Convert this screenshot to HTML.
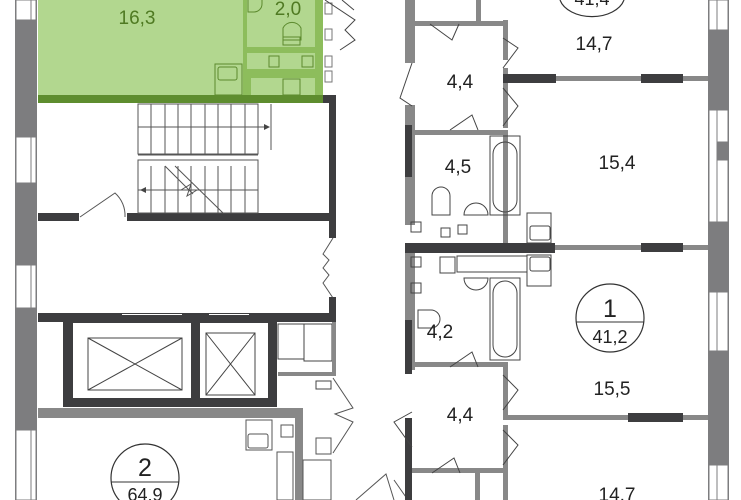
<!DOCTYPE html>
<html><head><meta charset="utf-8"><style>
html,body{margin:0;padding:0;background:#fff;}
svg{display:block;}
text{font-family:"Liberation Sans",sans-serif;}
</style></head><body>
<svg width="741" height="500" viewBox="0 0 741 500" xmlns="http://www.w3.org/2000/svg">
<rect width="741" height="500" fill="#fff"/>
<rect x="15" y="0" width="22" height="500" fill="#7d7d7f"/>
<g fill="#fff" stroke="#7d7d7f" stroke-width="1">
<rect x="16" y="0" width="15" height="20"/><rect x="31" y="0" width="5" height="20"/>
<rect x="16" y="137" width="15" height="46"/><rect x="31" y="137" width="5" height="46"/>
<rect x="16" y="265" width="15" height="43"/><rect x="31" y="265" width="5" height="43"/>
<rect x="16" y="430" width="15" height="70"/><rect x="31" y="430" width="5" height="70"/>
</g>
<rect x="708" y="0" width="21" height="500" fill="#7d7d7f"/>
<g fill="#fff" stroke="#7d7d7f" stroke-width="1">
<rect x="709" y="0" width="8" height="30"/><rect x="717" y="0" width="11" height="30"/>
<rect x="709" y="110" width="8" height="112"/><rect x="717" y="110" width="11" height="32"/><rect x="717" y="160" width="11" height="62"/>
<rect x="709" y="292" width="8" height="59"/><rect x="717" y="292" width="11" height="59"/>
<rect x="709" y="465" width="8" height="35"/><rect x="717" y="465" width="11" height="35"/>
</g>
<rect x="38" y="0" width="285" height="97" fill="#b2d78f"/>
<rect x="243" y="0" width="80" height="97" fill="#8dbd5c"/>
<rect x="247" y="0" width="68" height="47" fill="#b2d78f"/>
<rect x="247" y="53" width="68" height="16" fill="#b2d78f"/>
<rect x="251" y="78" width="64" height="17" fill="#b2d78f"/>
<rect x="269" y="56" width="10" height="11" fill="none" stroke="#5c8a2e"/>
<rect x="302" y="56" width="11" height="11" fill="none" stroke="#5c8a2e"/>
<rect x="283" y="79" width="17" height="16" fill="none" stroke="#5c8a2e"/>
<rect x="215" y="64" width="27" height="31" fill="none" stroke="#5c8a2e"/>
<rect x="218" y="67" width="19" height="13" rx="2" fill="none" stroke="#5c8a2e"/>
<path d="M283 40 v-12 a10 10 0 0 1 18 0 v12 z" fill="none" stroke="#5c8a2e"/>
<rect x="283" y="37" width="17" height="8" fill="none" stroke="#5c8a2e"/>
<path d="M248 0 v12 h6 a8 8 0 0 0 8 -8 v-4" fill="none" stroke="#5c8a2e"/>
<rect x="38" y="95" width="285" height="8" fill="#5e8d2f"/>
<text x="137" y="24" font-size="19" fill="#4f7a22" text-anchor="middle">16,3</text>
<text x="288" y="15" font-size="19" fill="#4f7a22" text-anchor="middle">2,0</text>
<g fill="#fff" stroke="#777"><rect x="325" y="3" width="7" height="11"/><rect x="325" y="29" width="7" height="11"/><rect x="325" y="56" width="7" height="11"/><rect x="325" y="71" width="7" height="11"/></g>
<rect x="323" y="95" width="13" height="8" fill="#3d3d3f"/>
<rect x="329" y="95" width="7" height="143" fill="#3d3d3f"/>
<rect x="38" y="213" width="41" height="8" fill="#3d3d3f"/>
<rect x="127" y="213" width="209" height="8" fill="#3d3d3f"/>
<g stroke="#555" fill="none" stroke-width="1">
<rect x="138" y="104" width="120" height="50"/>
<rect x="138" y="160" width="120" height="53"/>
<path d="M151 104v50M165 104v50M178 104v50M191 104v50M205 104v50M218 104v50M231 104v50M245 104v50"/>
<path d="M151 166v47M165 166v47M178 166v47M191 166v47M205 166v47M218 166v47M231 166v47M245 166v47"/>
<path d="M138 127h130M138 190h120M271 104v46"/>
<path d="M138 155h120M138 160h120"/>
<path d="M165 166 l28 28 M175 166 l48 47 M181 190 l10 -6 l-4 12 l10 -6"/>
<path d="M80 217 l35 -24 a30 30 0 0 1 10 24"/>
<path d="M333 238 l-10 16 l6 6 l-6 8 l6 7 l-6 8 l10 15"/>
</g>
<path d="M270 127 l-6 -3 v6z M140 190 l6 -3 v6z" fill="#444"/>
<rect x="38" y="313" width="298" height="9" fill="#3d3d3f"/>
<rect x="122" y="314" width="60" height="6" fill="#fff"/><rect x="209" y="314" width="40" height="6" fill="#fff"/>
<rect x="329" y="297" width="7" height="20" fill="#3d3d3f"/>
<rect x="63" y="315" width="214" height="92" fill="#3d3d3f"/>
<rect x="73" y="323" width="118" height="75" fill="#fff"/>
<rect x="200" y="323" width="68" height="75" fill="#fff"/>
<g stroke="#444" fill="none">
<rect x="88" y="338" width="94" height="52"/><path d="M88 338L182 390M182 338L88 390"/>
<rect x="206" y="333" width="49" height="62"/><path d="M206 333L255 395M255 333L206 395"/>
<rect x="278" y="324" width="26" height="35"/><rect x="304" y="324" width="28" height="37"/>
<rect x="316" y="381" width="15" height="8"/>
</g>
<rect x="278" y="372" width="58" height="4" fill="#888"/>
<rect x="332" y="322" width="4" height="54" fill="#888"/>
<rect x="38" y="408" width="264" height="10" fill="#888"/>
<rect x="295" y="408" width="8" height="92" fill="#888"/>
<g stroke="#555" fill="none">
<rect x="246" y="420" width="26" height="30"/><rect x="248" y="434" width="20" height="14" rx="2"/>
<rect x="281" y="425" width="12" height="12"/><rect x="277" y="452" width="16" height="48"/>
<rect x="316" y="438" width="15" height="16"/><rect x="303" y="460" width="28" height="40"/>
<path d="M333 378 l20 30 l-18 6 l18 8 l-20 31"/>
<path d="M356 500 l30 -26 l8 26 M408 500 l-14 -20"/>
</g>
<circle cx="145" cy="478" r="34" fill="none" stroke="#333" stroke-width="1.2"/>
<line x1="111" y1="482" x2="179" y2="482" stroke="#333"/>
<text x="145" y="476" font-size="25" text-anchor="middle" fill="#222">2</text>
<text x="145" y="501" font-size="18" text-anchor="middle" fill="#222">64,9</text>
<rect x="405" y="0" width="10" height="63" fill="#888"/>
<rect x="405" y="105" width="10" height="120" fill="#888"/>
<rect x="405" y="125" width="7" height="52" fill="#3d3d3f"/>
<rect x="405" y="250" width="10" height="120" fill="#888"/>
<rect x="405" y="320" width="7" height="54" fill="#3d3d3f"/>
<rect x="405" y="418" width="7" height="82" fill="#3d3d3f"/>
<rect x="476" y="0" width="5" height="24" fill="#888"/>
<rect x="412" y="21" width="94" height="5" fill="#888"/>
<rect x="503" y="20" width="5" height="40" fill="#888"/>
<rect x="503" y="68" width="5" height="60" fill="#888"/>
<rect x="412" y="130" width="96" height="5" fill="#888"/>
<rect x="503" y="135" width="5" height="110" fill="#888"/>
<rect x="503" y="76" width="205" height="5" fill="#888"/>
<rect x="503" y="74" width="53" height="9" fill="#3d3d3f"/>
<rect x="641" y="74" width="42" height="9" fill="#3d3d3f"/>
<rect x="405" y="245" width="303" height="5" fill="#888"/>
<rect x="405" y="243" width="150" height="10" fill="#3d3d3f"/>
<rect x="641" y="243" width="42" height="9" fill="#3d3d3f"/>
<rect x="503" y="415" width="205" height="5" fill="#888"/>
<rect x="628" y="413" width="55" height="9" fill="#3d3d3f"/>
<rect x="503" y="362" width="5" height="55" fill="#888"/>
<rect x="503" y="425" width="5" height="75" fill="#888"/>
<rect x="412" y="362" width="96" height="5" fill="#888"/>
<rect x="475" y="470" width="5" height="30" fill="#888"/>
<rect x="412" y="468" width="96" height="5" fill="#888"/>
<g stroke="#444" fill="none">
<rect x="411" y="222" width="10" height="10"/><rect x="441" y="228" width="9" height="9"/><rect x="458" y="225" width="9" height="9"/>
<rect x="527" y="213" width="24" height="30"/><rect x="530" y="226" width="20" height="14" rx="2"/>
<rect x="527" y="255" width="24" height="31"/><rect x="530" y="257" width="20" height="14" rx="2"/>
<rect x="411" y="257" width="10" height="10"/><rect x="411" y="283" width="10" height="10"/>
<rect x="440" y="257" width="15" height="16"/><rect x="457" y="256" width="70" height="16"/>
<rect x="490" y="136" width="30" height="79"/><rect x="493" y="142" width="24" height="70" rx="12"/>
<path d="M464 215 a12 12 0 0 1 24 0 z"/>
<path d="M432 215 v-19 a9 9 0 0 1 18 0 v19 z"/>
<rect x="490" y="278" width="30" height="82"/><rect x="493" y="281" width="24" height="76" rx="12"/>
<path d="M464 278 a12 12 0 0 0 24 0 z"/>
<path d="M418 310 h13 a9 9 0 0 1 0 18 h-13 z"/>
<path d="M430 24 l22 16 l7 -16 M412 63 l-12 35 l12 8 M503 38 l15 10 l-15 20 M503 88 l15 18 l-15 20 M450 130 l22 -15 l6 15"/>
<path d="M450 367 l22 -15 l6 15 M503 375 l15 15 l-15 20 M503 430 l15 15 l-15 20 M412 412 l-18 10 l18 25 M432 473 l22 -15 l6 15"/>
<path d="M325 0 l30 20 l-10 10 l10 10 l-15 10 M342 0 l12 10"/>
</g>
<text x="592" y="5" font-size="18" text-anchor="middle" fill="#222">41,4</text>
<path d="M560 0 a33 22 0 0 0 64 0" fill="none" stroke="#333" stroke-width="1.2"/>
<g font-size="19" fill="#222" text-anchor="middle">
<text x="594" y="50">14,7</text>
<text x="460" y="88">4,4</text>
<text x="458" y="173">4,5</text>
<text x="617" y="169">15,4</text>
<text x="440" y="338">4,2</text>
<text x="612" y="395">15,5</text>
<text x="460" y="421">4,4</text>
<text x="617" y="501">14,7</text>
</g>
<circle cx="610" cy="318" r="34" fill="none" stroke="#333" stroke-width="1.2"/>
<line x1="576" y1="322" x2="644" y2="322" stroke="#333"/>
<text x="610" y="317" font-size="25" text-anchor="middle" fill="#222">1</text>
<text x="610" y="343" font-size="18" text-anchor="middle" fill="#222">41,2</text>
</svg>
</body></html>
